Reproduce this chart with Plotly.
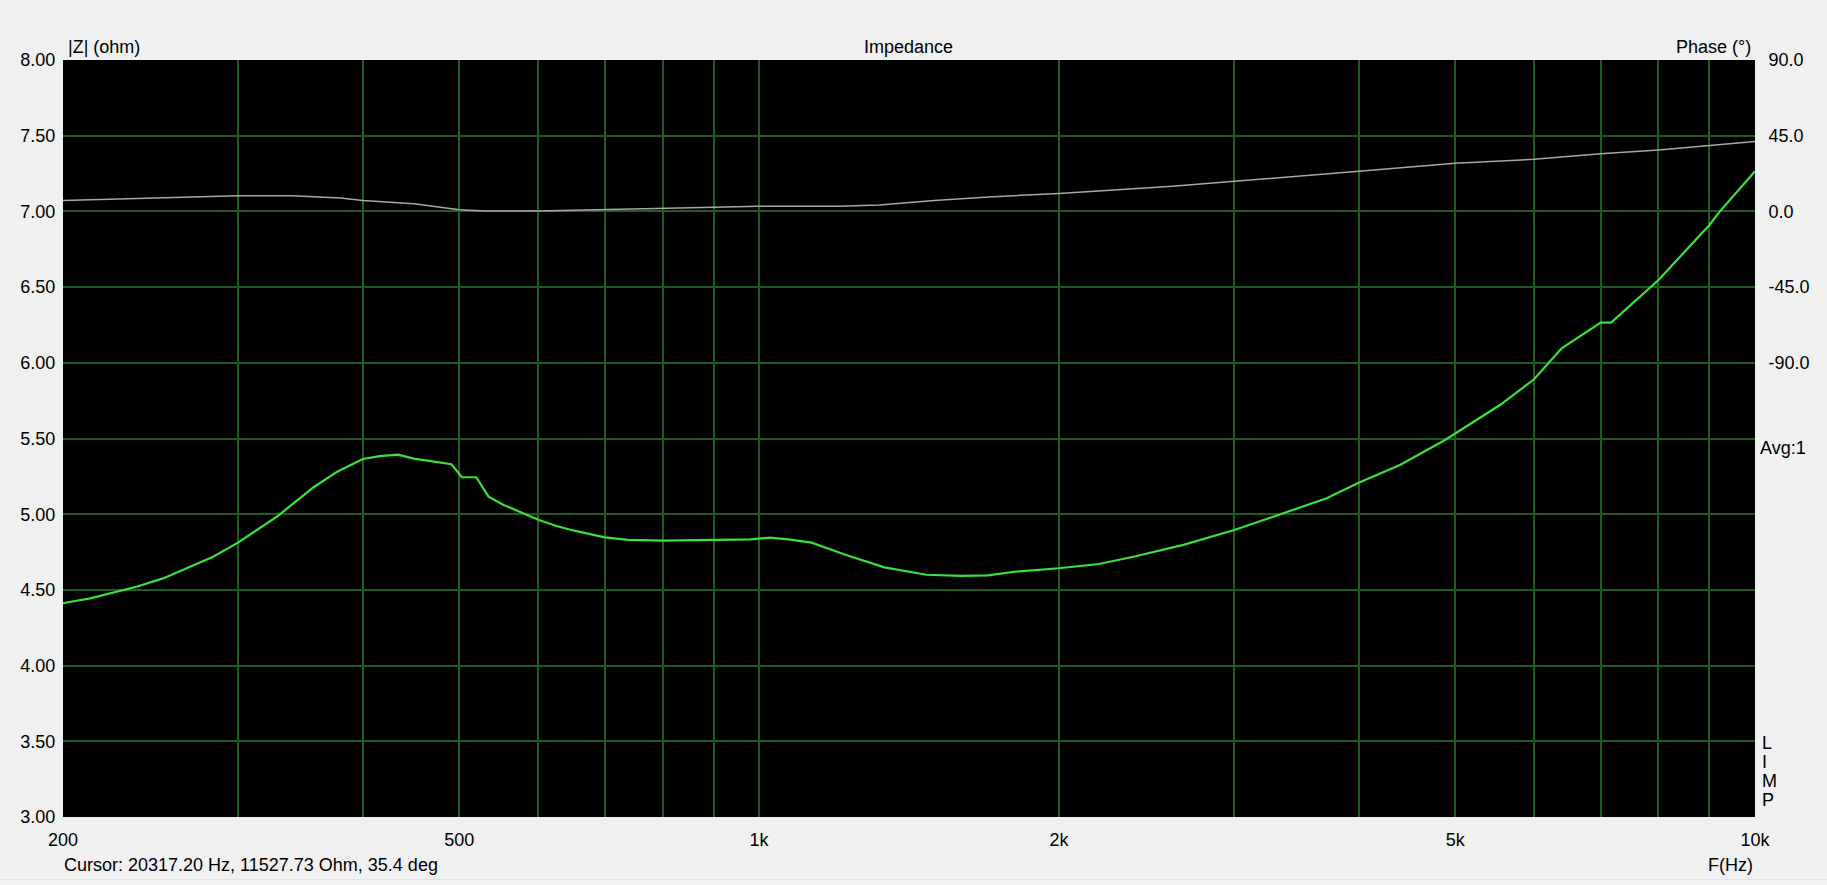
import math
import plotly.graph_objects as go

# ---- data ----
imp_freq = [200, 201, 213, 237, 252, 283, 300, 328, 357, 377, 400, 416, 434, 450, 491, 503, 520, 535,
            554, 601, 626, 652, 700, 739, 800, 900, 980, 1025, 1071, 1129, 1223, 1336, 1472, 1595,
            1697, 1805, 2000, 2193, 2376, 2667, 3000, 3360, 3715, 4000, 4401, 4884, 5545, 6000,
            6396, 7000, 7170, 8000, 9000, 9220, 10000]
imp_ohm = [4.41, 4.415, 4.444, 4.521, 4.576, 4.719, 4.814, 4.984, 5.178, 5.281, 5.365, 5.384, 5.393,
           5.367, 5.330, 5.244, 5.244, 5.116, 5.061, 4.962, 4.922, 4.891, 4.847, 4.830, 4.825, 4.830,
           4.834, 4.845, 4.834, 4.812, 4.731, 4.649, 4.600, 4.592, 4.596, 4.620, 4.643, 4.671, 4.719,
           4.797, 4.896, 5.006, 5.105, 5.208, 5.325, 5.490, 5.721, 5.891, 6.096, 6.265, 6.265, 6.547,
           6.910, 7.000, 7.265]

phase_freq = [200, 230, 265, 300, 340, 380, 400, 450, 500, 530, 600, 700, 900, 1000, 1200, 1320,
              1500, 1700, 2000, 2600, 3000, 4000, 5000, 6000, 7000, 8000, 10000]
phase_deg = [6.5, 7.5, 8.2, 9.3, 9.3, 7.9, 6.5, 4.5, 1.0, 0.3, 0.3, 1.0, 2.4, 3.1, 3.1, 3.8,
             6.5, 8.6, 10.7, 14.9, 18.0, 23.9, 28.6, 31.0, 34.2, 36.5, 41.5]

x_grid = [200, 300, 400, 500, 600, 700, 800, 900, 1000, 2000, 3000, 4000, 5000, 6000, 7000,
          8000, 9000, 10000]
x_labels = {200: "200", 500: "500", 1000: "1k", 2000: "2k", 5000: "5k", 10000: "10k"}
y_ticks = [3.0, 3.5, 4.0, 4.5, 5.0, 5.5, 6.0, 6.5, 7.0, 7.5, 8.0]
phase_ticks = [90, 45, 0, -45, -90]
phase_labels = ["90.0", "45.0", "0.0", "-45.0", "-90.0"]

# ---- geometry (pixels) ----
W, H = 1827, 885
L, R, T, B = 63, 1755, 60, 817
PW, PH = R - L, B - T

def px(x):
    return (x - L) / PW

def py(y):
    return (B - y) / PH

GRID = "#1f5c1f"
FONT = "Liberation Sans, Arial, sans-serif"
FS = 18

fig = go.Figure()
fig.add_trace(go.Scatter(x=phase_freq, y=phase_deg, yaxis="y2", mode="lines",
                         line=dict(color="#a8a8a8", width=1.5), hoverinfo="skip", showlegend=False))
fig.add_trace(go.Scatter(x=imp_freq, y=imp_ohm, mode="lines",
                         line=dict(color="#3be03b", width=2.2), hoverinfo="skip", showlegend=False))

eps = 1e-6
fig.update_layout(
    width=W, height=H,
    margin=dict(l=L, r=W - R, t=T, b=H - B, pad=0),
    paper_bgcolor="#f0f0f0", plot_bgcolor="black",
    font=dict(family=FONT, size=FS, color="black"),
    showlegend=False,
    xaxis=dict(type="log", range=[math.log10(200) - eps, math.log10(10000) + eps],
               tickmode="array", tickvals=x_grid,
               ticktext=[x_labels.get(v, "") for v in x_grid],
               showgrid=True, gridcolor=GRID, gridwidth=2, zeroline=False,
               ticks="outside", ticklen=6, tickcolor="#f0f0f0", showline=False),
    yaxis=dict(range=[3 - eps, 8 + eps], tickmode="array", tickvals=y_ticks,
               ticktext=[f"{v:.2f}" for v in y_ticks],
               showgrid=True, gridcolor=GRID, gridwidth=2, zeroline=False,
               ticks="outside", ticklen=3, tickcolor="#f0f0f0", showline=False),
    yaxis2=dict(range=[-360, 90 + eps * 90], overlaying="y", side="right",
                tickmode="array", tickvals=phase_ticks, ticktext=phase_labels,
                showgrid=False, zeroline=False,
                ticks="outside", ticklen=9, tickcolor="#f0f0f0", showline=False),
)

def ann(text, x, y, xanchor):
    fig.add_annotation(text=text, xref="paper", yref="paper", x=px(x), y=py(y),
                       xanchor=xanchor, yanchor="middle", showarrow=False,
                       font=dict(family=FONT, size=FS, color="black"))

ann("|Z| (ohm)", 66, 47, "left")
ann("Impedance", 908, 47, "center")
ann("Phase (°)", 1753, 47, "right")
ann("Avg:1", 1758, 448, "left")
for ch, yy in zip(["L", "I", "M", "P"], [743, 762, 781, 800]):
    ann(ch, 1760, yy, "left")
ann("Cursor: 20317.20 Hz, 11527.73 Ohm, 35.4 deg", 62, 865, "left")
ann("F(Hz)", 1755, 865, "right")

fig.add_shape(type="line", xref="paper", yref="paper", x0=px(0), x1=px(W), y0=py(880), y1=py(880),
              line=dict(color="#d4d4d4", width=1))
fig.add_shape(type="line", xref="paper", yref="paper", x0=px(0), x1=px(W), y0=py(881), y1=py(881),
              line=dict(color="#ffffff", width=1))

fig.write_html("out.html", config={"displayModeBar": False},
               post_script="document.body.style.margin='0';document.body.style.overflow='hidden';")
